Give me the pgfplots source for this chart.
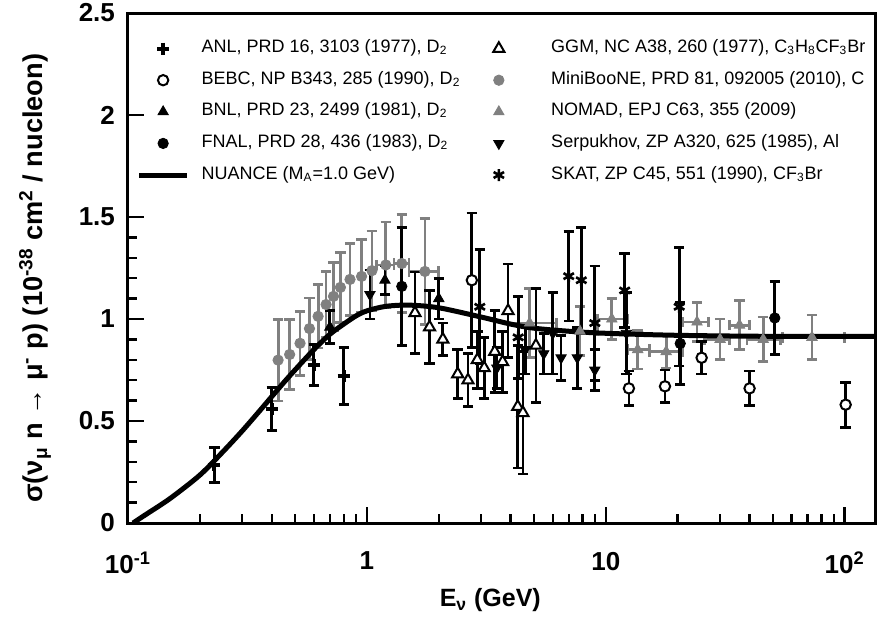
\documentclass[border=0pt]{standalone}
\usepackage{pgfplots}
\pgfplotsset{compat=1.18}
\usepackage{fontspec}
\setmainfont{Liberation Sans}
\usetikzlibrary{plotmarks}
\definecolor{gr}{gray}{0.5}
\pgfplotsset{
  ebar/.style={only marks,
    error bars/y dir=both, error bars/y explicit,
    error bars/error bar style={line width=1.4pt},
    error bars/error mark options={rotate=90, mark size=2.6pt, line width=1.4pt}},
  limgL/.style={legend image code/.code={\path (0pt,-4pt) (28pt,4pt); \draw[mark repeat=2,mark phase=2] plot coordinates {(0pt,0pt)(12pt,0pt)(24pt,0pt)};}},
  limgR/.style={legend image code/.code={\path (0pt,-4pt) (36pt,4pt); \draw[mark repeat=2,mark phase=2] plot coordinates {(0pt,0pt)(12pt,0pt)(24pt,0pt)};}},
}
\begin{document}
\begin{tikzpicture}
\begin{axis}[name=ax, scale only axis, width=373.5pt, height=255pt,
  xmode=log, xmin=0.1, xmax=134, ymin=0, ymax=2.5,
  axis line style={line width=1.5pt},
  tick style={line width=1.2pt, black},
  major tick length=8pt, minor tick length=4.5pt,
  xtick pos=bottom, ytick pos=left, tick align=inside,
  xtick={0.1,1,10,100},
  xticklabels={10\textsuperscript{-1},1,10,10\textsuperscript{2}},
  minor xtick={0.2,0.3,0.4,0.5,0.6,0.7,0.8,0.9,2,3,4,5,6,7,8,9,20,30,40,50,60,70,80,90},
  ytick={0,0.5,1,1.5,2,2.5}, yticklabels={0,0.5,1,1.5,2,2.5},
  minor ytick={0.1,0.2,0.3,0.4,0.6,0.7,0.8,0.9,1.1,1.2,1.3,1.4},
  ticklabel style={font=\bfseries\fontsize{13}{15}\selectfont},
  xticklabel style={yshift=-11pt},
  yticklabel style={xshift=-3pt},
  xlabel={E\textsubscript{ν} (GeV)},
  ylabel={σ(ν\textsubscript{μ} n → μ\textsuperscript{-} p) (10\textsuperscript{-38} cm\textsuperscript{2} / nucleon)},
  xlabel style={font=\bfseries\fontsize{12.5}{14}\selectfont, at={(axis description cs:0.485,-0.151)}, anchor=center},
  ylabel style={font=\bfseries\fontsize{13.6}{15}\selectfont, at={(axis description cs:-0.1245,0.48)}, anchor=center},
  legend style={at={(axis description cs:0.003,0.969)}, anchor=north west, draw=none, fill=none,
    font=\fontsize{9}{11}\selectfont, legend columns=2,
    /tikz/every even column/.append style={column sep=5pt},
    nodes={inner xsep=2pt, inner ysep=1.7pt, text height=8pt, text depth=4pt}, row sep=0.4pt},
  legend cell align=left,
]
% MiniBooNE
\addplot[gr, mark=*, mark size=2.6pt, ebar, forget plot]
  table[x=x, y=y, y error=dy] {
x y dy
0.425 0.7985 0.20
0.475 0.8261 0.17
0.525 0.8809 0.157
0.575 0.953 0.15
0.625 1.013 0.155
0.675 1.071 0.161
0.725 1.111 0.166
0.775 1.155 0.171
0.85 1.194 0.176
0.95 1.209 0.179
1.05 1.237 0.194
};
\addplot[gr, mark=*, mark size=2.6pt, ebar, error bars/x dir=both, error bars/x explicit, forget plot]
  table[x=x, y=y, x error=dx, y error=dy] {
x y dx dy
1.2 1.265 0.1 0.21
1.4 1.272 0.1 0.24
1.75 1.233 0.25 0.26
};
% NOMAD
\addplot[gr, mark=triangle*, mark size=3pt, ebar, error bars/x dir=both, error bars/x explicit, forget plot]
  table[x=x, y=y, x error minus=xm, x error plus=xp, y error=dy] {
x y xm xp dy
4.8 0.98 0.9 1.4 0.17
7.8 0.94 1.6 1.4 0.12
10.6 1.0 1.4 1.8 0.10
13.6 0.85 1.2 1.6 0.095
17.9 0.84 2.7 3.1 0.08
24.1 0.985 3.1 2.9 0.095
30.1 0.90 4.1 2.9 0.10
36.3 0.97 3.3 3.7 0.12
45.6 0.90 6.6 8.4 0.11
73 0.91 18 27 0.11
};
% ANL
\addplot[black, mark=+, mark size=3pt, mark options={line width=2pt}, ebar, forget plot]
  table[x=x, y=y, y error=dy] {
x y dy
0.23 0.285 0.085
0.40 0.56 0.105
0.60 0.775 0.10
0.80 0.72 0.14
};
% GGM
\addplot[black, mark=triangle*, mark size=3.2pt, mark options={fill=white, line width=1pt}, ebar, forget plot]
  table[x=x, y=y, y error=dy] {
x y dy
1.59 1.03 0.20
1.83 0.96 0.18
2.08 0.90 0.08
2.40 0.73 0.12
2.65 0.70 0.13
2.90 0.80 0.14
3.10 0.76 0.15
3.43 0.84 0.20
3.70 0.79 0.15
3.90 1.04 0.23
4.28 0.57 0.30
4.50 0.54 0.30
5.10 0.87 0.28
};
% BEBC
\addplot[black, mark=*, mark size=2.6pt, mark options={fill=white, line width=1pt}, ebar, forget plot]
  table[x=x, y=y, y error=dy] {
x y dy
2.75 1.19 0.33
12.5 0.66 0.085
17.7 0.67 0.08
25.2 0.81 0.08
40 0.66 0.085
101 0.58 0.11
};
% BNL
\addplot[black, mark=triangle*, mark size=3pt, ebar, forget plot]
  table[x=x, y=y, y error=dy] {
x y dy
0.70 0.96 0.08
1.19 1.19 0.07
2.0 1.10 0.10
};
% FNAL
\addplot[black, mark=*, mark size=2.6pt, ebar, forget plot]
  table[x=x, y=y, y error=dy] {
x y dy
1.40 1.16 0.29
20.5 0.88 0.20
51 1.005 0.18
};
% Serpukhov
\addplot[black, mark=triangle*, mark size=3pt, mark options={rotate=180}, ebar, forget plot]
  table[x=x, y=y, y error=dy] {
x y dy
1.03 1.12 0.12
3.5 0.76 0.10
4.6 0.85 0.12
5.5 0.83 0.10
6.0 0.93 0.20
6.5 0.81 0.11
7.6 0.81 0.15
9.0 0.75 0.10
12.2 0.93 0.20
};
% SKAT
\addplot[black, mark=asterisk, mark size=3pt, mark options={line width=1.3pt}, ebar, forget plot]
  table[x=x, y=y, y error=dy] {
x y dy
2.97 1.06 0.28
4.3 0.91 0.20
7.0 1.21 0.22
7.9 1.19 0.26
9.0 0.98 0.28
12.0 1.14 0.18
20.3 1.06 0.29
};
% NUANCE
\addplot[black, line width=2.5pt, smooth, forget plot] coordinates {
(0.105,0) (0.12,0.045) (0.15,0.12) (0.2,0.235) (0.25,0.35) (0.3,0.45) (0.35,0.54)
(0.4,0.62) (0.45,0.69) (0.5,0.75) (0.6,0.85) (0.7,0.925) (0.8,0.975) (0.9,1.015)
(1.0,1.04) (1.2,1.062) (1.5,1.068) (2,1.055) (3,1.01) (4,0.975) (5,0.955) (7,0.94)
(10,0.93) (20,0.92) (50,0.915) (134,0.915)};
% legend
\addlegendimage{limgL, black, only marks, mark=+, mark size=3pt, mark options={line width=2pt}}
\addlegendentry{ANL, PRD 16, 3103 (1977), D\textsubscript{2}}
\addlegendimage{limgR, black, only marks, mark=triangle*, mark size=3.2pt, mark options={fill=white, line width=1pt}}
\addlegendentry{GGM, NC A38, 260 (1977), C\textsubscript{3}H\textsubscript{8}CF\textsubscript{3}Br}
\addlegendimage{limgL, black, only marks, mark=*, mark size=2.6pt, mark options={fill=white, line width=1pt}}
\addlegendentry{BEBC, NP B343, 285 (1990), D\textsubscript{2}}
\addlegendimage{limgR, gr, only marks, mark=*, mark size=2.6pt}
\addlegendentry{MiniBooNE, PRD 81, 092005 (2010), C}
\addlegendimage{limgL, black, only marks, mark=triangle*, mark size=3pt}
\addlegendentry{BNL, PRD 23, 2499 (1981), D\textsubscript{2}}
\addlegendimage{limgR, gr, only marks, mark=triangle*, mark size=3pt}
\addlegendentry{NOMAD, EPJ C63, 355 (2009)}
\addlegendimage{limgL, black, only marks, mark=*, mark size=2.6pt}
\addlegendentry{FNAL, PRD 28, 436 (1983), D\textsubscript{2}}
\addlegendimage{limgR, black, only marks, mark=triangle*, mark size=3pt, mark options={rotate=180}}
\addlegendentry{Serpukhov, ZP A320, 625 (1985), Al}
\addlegendimage{limgL, black, line width=2.5pt}
\addlegendentry{NUANCE (M\textsubscript{A}=1.0 GeV)}
\addlegendimage{limgR, black, only marks, mark=asterisk, mark size=3pt, mark options={line width=1.3pt}}
\addlegendentry{SKAT, ZP C45, 551 (1990), CF\textsubscript{3}Br}
\end{axis}
\pgfresetboundingbox
\path[use as bounding box] ([shift={(-64pt,-49pt)}]ax.south west) rectangle ([shift={(1.5pt,6.5pt)}]ax.north east);
\end{tikzpicture}
\end{document}
